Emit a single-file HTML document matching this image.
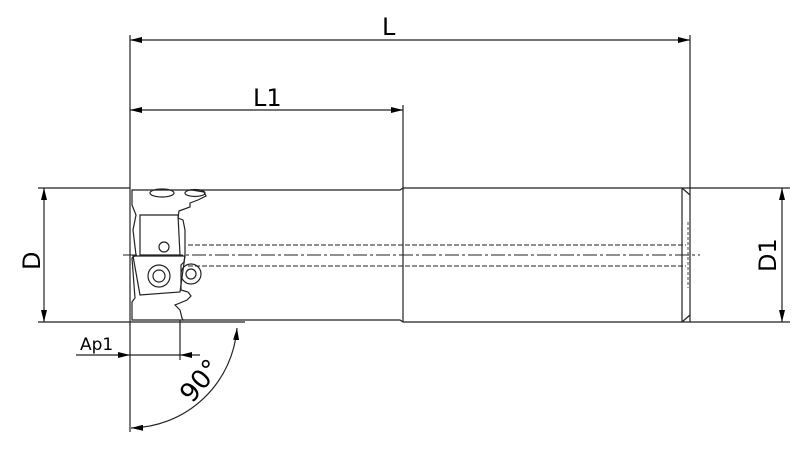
<!DOCTYPE html>
<html><head><meta charset="utf-8"><style>html,body{margin:0;padding:0;background:#fff}svg{display:block}</style></head>
<body>
<svg width="800" height="450" viewBox="0 0 800 450" xmlns="http://www.w3.org/2000/svg" font-family="'DejaVu Sans', 'Liberation Sans', sans-serif">
<defs>
<marker id="a" viewBox="0 0 12 6" refX="12" refY="3" markerWidth="12" markerHeight="6" orient="auto-start-reverse" markerUnits="userSpaceOnUse"><path d="M0,0 L12,3 L0,6 z" fill="#000"/></marker>
</defs>
<g stroke="#222" stroke-width="1.2" fill="none">
<line x1="130" y1="35" x2="130" y2="432"/>
<line x1="690" y1="35" x2="690" y2="188"/>
<line x1="403" y1="105" x2="403" y2="190"/>
<line x1="38" y1="188" x2="130" y2="188"/>
<line x1="38" y1="322" x2="245" y2="322"/>
<line x1="690" y1="188" x2="790" y2="188"/>
<line x1="690" y1="322" x2="790" y2="322"/>
<line x1="180" y1="320" x2="180" y2="360"/>
<line x1="130" y1="40" x2="690" y2="40" marker-start="url(#a)" marker-end="url(#a)"/>
<line x1="130" y1="110" x2="403" y2="110" marker-start="url(#a)" marker-end="url(#a)"/>
<line x1="44" y1="188" x2="44" y2="322" marker-start="url(#a)" marker-end="url(#a)"/>
<line x1="782" y1="188" x2="782" y2="322" marker-start="url(#a)" marker-end="url(#a)"/>
<line x1="76" y1="355" x2="130" y2="355" marker-end="url(#a)"/>
<line x1="200" y1="355" x2="180" y2="355" marker-end="url(#a)"/>
<line x1="130" y1="355" x2="180" y2="355"/>
<path d="M237,328 A108,108 0 0 1 131,428" marker-start="url(#a)" marker-end="url(#a)"/>
<path d="M190,190 L400,190 L403,188 L690,188 L690,322 L403,322 L400,320 L183,320"/>
<line x1="403" y1="188" x2="403" y2="322"/>
<path d="M682,188 L682,322 M682,188 L690,195 M682,322 L690,315"/>
<path d="M688,222 L688,288" stroke-dasharray="3,2" stroke-width="0.8"/>
<path d="M188,245 L686,245 M188,266 L686,266" stroke-dasharray="5,2" stroke-width="0.9"/>
<path d="M123,255 L700,255" stroke-dasharray="14,3,3,3" stroke-width="0.9"/>
<!-- head -->
<path d="M132,190 L192,190 L204,192 L206,196 L198,200 L190,203 L190,207 L179,211 L178,218 L183,220 L185,230 L185,255 L184,262 L181,265 L181,290 L188,292 L191,296 L187,300 L180,303 L175,305 L180,310 L182,318 L183,320 L132,320 L132,302 L135,298 L134,285 L132,258 L136,255 L133,230 L136,215 L132,205 Z"/>
<path d="M140,215 L178,215 L180,255 L140,255 Z"/>
<path d="M133,256 L185,256 L180,292 L140,295 Z"/>
<circle cx="164" cy="247" r="5"/>
<circle cx="159" cy="276" r="11"/><circle cx="159" cy="276" r="6"/>
<circle cx="191" cy="274" r="10"/><circle cx="191" cy="274" r="5"/>
<ellipse cx="162" cy="193" rx="12" ry="4"/><ellipse cx="195" cy="193" rx="10" ry="3.5"/>
</g>
<g fill="#000" font-size="24">
<text x="382" y="35">L</text>
<text x="253" y="106">L1</text>
<text x="80" y="350" font-size="17">Ap1</text>
<text transform="translate(40,270) rotate(-90)">D</text>
<text transform="translate(776,272) rotate(-90)">D1</text>
<text transform="translate(192,404) rotate(-50)" font-size="26">90°</text>
</g>
</svg>
</body></html>
